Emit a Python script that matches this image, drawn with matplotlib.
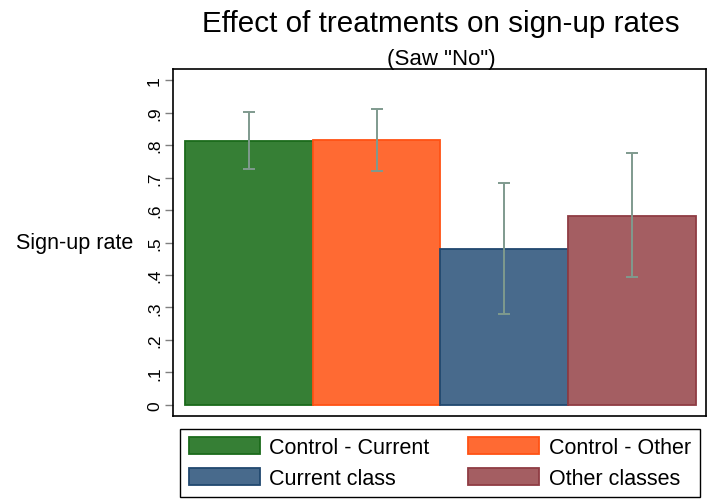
import numpy as np
import matplotlib.pyplot as plt
from matplotlib.patches import Patch

plt.rcParams['font.family'] = ['Liberation Sans', 'DejaVu Sans']

groups = ['Control - Current', 'Control - Other', 'Current class', 'Other classes']
rates = [0.812, 0.816, 0.480, 0.582]
ci_low = [0.725, 0.721, 0.280, 0.395]
ci_high = [0.902, 0.911, 0.682, 0.775]
yticks = [0, 0.1, 0.2, 0.3, 0.4, 0.5, 0.6, 0.7, 0.8, 0.9, 1.0]
ytick_labels = ['0', '.1', '.2', '.3', '.4', '.5', '.6', '.7', '.8', '.9', '1']

fills = ['#367f35', '#ff6a33', '#486a8c', '#a45e62']
edges = ['#1b6b1b', '#ff5214', '#21486f', '#8f3c43']
ci_color = '#7f9a8e'

W, H = 709, 502
fig = plt.figure(figsize=(W / 100, H / 100), dpi=100)
ax = fig.add_axes([173 / W, 1 - 417 / H, (706 - 173) / W, (417 - 70) / H])

x = np.arange(len(groups))
ax.bar(x, rates, width=1.0, color=fills, edgecolor=edges, linewidth=1.3, zorder=2)

lo = np.array(rates) - np.array(ci_low)
hi = np.array(ci_high) - np.array(rates)
ax.errorbar(x, rates, yerr=[lo, hi], fmt='none', ecolor=ci_color,
            elinewidth=1.4, capsize=4.5, capthick=1.4, zorder=3)

ax.set_xlim(-0.595, 3.58)
ax.set_ylim(-0.034, 1.034)
ax.set_xticks([])
ax.set_yticks(yticks)
ax.set_yticklabels(ytick_labels, rotation=90, va='center', fontsize=12.5)
ax.tick_params(axis='y', length=6, width=1, color='#808080', pad=2)

for s in ax.spines.values():
    s.set_linewidth(1.2)
    s.set_color('black')

ax.set_ylabel('Sign-up rate', rotation=0, fontsize=15.5, ha='right', va='center')
ax.yaxis.set_label_coords(-0.075, 0.5)

fig.text(440.5 / W, 1 - 31.7 / H, 'Effect of treatments on sign-up rates',
         ha='center', va='baseline', fontsize=21.3)
fig.text(441 / W, 1 - 65 / H, '(Saw "No")', ha='center', va='baseline', fontsize=16)

# legend fills column-wise, so order entries to read row by row
order = [0, 2, 1, 3]
handles = [Patch(facecolor=fills[i], edgecolor=edges[i], linewidth=1.3) for i in order]
labels = [groups[i] for i in order]
leg = fig.legend(handles, labels, ncol=2, loc='center',
                 bbox_to_anchor=(440 / W, 1 - 464 / H), fontsize=15.5,
                 handlelength=3.3, handleheight=0.85, handletextpad=0.45,
                 columnspacing=1.8, labelspacing=0.45, borderpad=0.4,
                 fancybox=False, framealpha=1, edgecolor='black')
leg.get_frame().set_linewidth(1.0)

fig.savefig('out.png', dpi=100)
